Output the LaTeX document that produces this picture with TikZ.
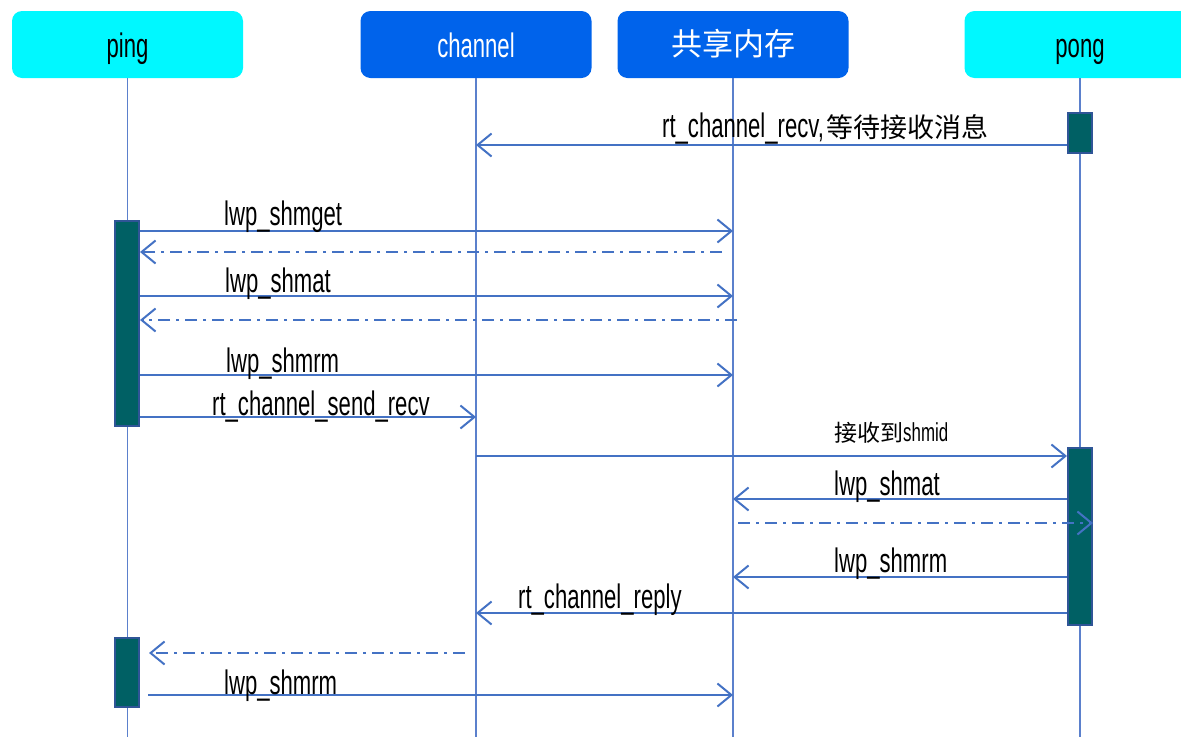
\documentclass[tikz,border=0pt]{standalone}
\usepackage{fontspec}
\setmainfont{Liberation Sans}[FakeStretch=0.65]
\newfontfamily\cjk{Noto Sans CJK SC}
\usetikzlibrary{arrows.meta,calc}

\definecolor{msgblue}{HTML}{4472C4}
\definecolor{lifeblue}{HTML}{5B80CC}
\definecolor{headcyan}{HTML}{00F8FF}
\definecolor{headblue}{HTML}{0063EB}
\definecolor{actfill}{HTML}{006064}
\definecolor{actedge}{HTML}{2F5597}

% header captions sit on a fixed baseline below the box centre
\newcommand{\headtext}[2]{\raisebox{#1}[0pt][0pt]{#2}}

\tikzset{
  head/.style={rounded corners=10pt, minimum width=231pt, minimum height=67pt,
    inner sep=0pt, font=\fontsize{34}{38}\selectfont},
  life/.style={draw=lifeblue, line width=1.2pt},
  act/.style={draw=actedge, fill=actfill, line width=2pt, inner sep=0pt,
    minimum width=24pt},
  msg/.style={draw=msgblue, line width=2pt,
    -{Straight Barb[length=14pt,width=23pt]}},
  ret/.style={msg, dash pattern=on 12pt off 6pt on 3pt off 6pt},
  lbl/.style={anchor=base west, inner sep=0pt, text=black,
    font=\fontsize{34}{38}\selectfont},
}

\begin{document}
\begin{tikzpicture}[x=1pt, y=-1pt]
\useasboundingbox (0,0) rectangle (1181,737);
\coordinate (bottom) at (0,737);

% participants
\node[head, fill=headcyan, text=black] (ping) at (127.5,44.5) {\headtext{-13pt}{ping}};
\node[head, fill=headblue, text=white] (chan) at (476,44.5) {\headtext{-13pt}{channel}};
\node[head, fill=headblue, text=white, font=\cjk\fontsize{31}{34}\selectfont] (mem) at (733,44.5) {\headtext{-11pt}{共享内存}};
\node[head, fill=headcyan, text=black] (pong) at (1080,44.5) {\headtext{-13pt}{pong}};

% lifelines
\foreach \p in {ping,chan,mem,pong}
  \draw[life] (\p.south) -- (\p.south |- bottom);

% activation bars
\node[act, minimum height=205pt] (actA) at (127,323.5) {};
\node[act, minimum height=69pt]  (actB) at (127,672.5) {};
\node[act, minimum height=40pt]  (actC) at (1080,133) {};
\node[act, minimum height=177pt] (actD) at (1080,536.5) {};

% message rows
\foreach \n/\y in {r1/145, r2/231, r3/252, r4/296, r5/320, r6/375, r7/417,
                   r8/456, r9/499, r10/523, r11/577, r12/613, r13/653, r14/695}
  \coordinate (\n) at (0,\y);
\coordinate (s3) at (722,252);
\coordinate (s5) at (737,320);
\coordinate (s10) at (738,523);
\coordinate (s13) at (465,653);

% messages
\draw[msg] (actC.west |- r1) -- (chan |- r1);
\node[lbl] (l1) at (662,137) {rt\_channel\_recv,\hspace{3pt}{\cjk\fontsize{27}{30}\selectfont 等待接收消息}};

\draw[msg] (actA.east |- r2) -- (mem |- r2);
\node[lbl] (l2) at (224,225) {lwp\_shmget};
\draw[ret] (s3) -- (actA.east |- r3);

\draw[msg] (actA.east |- r4) -- (mem |- r4);
\node[lbl] (l4) at (225,292) {lwp\_shmat};
\draw[ret] (s5) -- (actA.east |- r5);

\draw[msg] (actA.east |- r6) -- (mem |- r6);
\node[lbl] (l6) at (226,372) {lwp\_shmrm};

\draw[msg] (actA.east |- r7) -- (chan |- r7);
\node[lbl] (l7) at (212,415) {rt\_channel\_send\_recv};

\draw[msg] (chan |- r8) -- (actD.west |- r8);
\node[lbl, font=\fontsize{26}{30}\selectfont] (l8) at (834,441) {{\cjk\fontsize{23}{26}\selectfont 接收到}shmid};

\draw[msg] (actD.west |- r9) -- (mem |- r9);
\node[lbl] (l9) at (834,495) {lwp\_shmat};
\draw[ret] (s10) -- (actD.east |- r10);

\draw[msg] (actD.west |- r11) -- (mem |- r11);
\node[lbl] (l11) at (834,572) {lwp\_shmrm};

\draw[msg] (actD.west |- r12) -- (chan |- r12);
\node[lbl] (l12) at (518,608) {rt\_channel\_reply};

\draw[ret] (s13) -- ($(actB.east |- r13)+(9,0)$);

\draw[msg] ($(actB.east |- r14)+(8,0)$) -- (mem |- r14);
\node[lbl] (l14) at (224,694) {lwp\_shmrm};
\end{tikzpicture}
\end{document}
